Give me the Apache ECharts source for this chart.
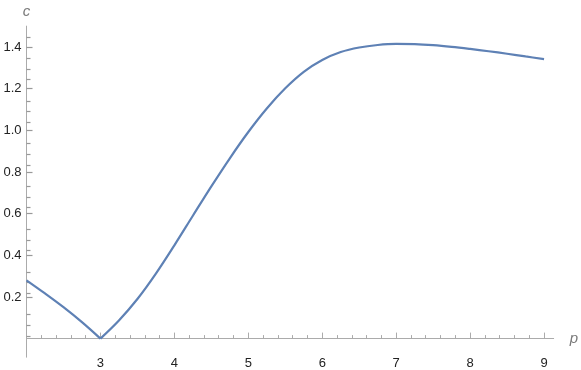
<!DOCTYPE html>
<html><head><meta charset="utf-8">
<script src="https://cdn.jsdelivr.net/npm/echarts@6/dist/echarts.min.js"></script>
<style>html,body{margin:0;padding:0;background:#fff}#c{width:581px;height:370px}</style>
</head><body><div id="c"></div>
<script>
// data
const pValues = [2, 2.25, 2.5, 2.75, 3, 3.25, 3.5, 3.75, 4, 4.25, 4.5, 4.75, 5, 5.25, 5.5, 5.75, 6, 6.25, 6.5, 6.75, 7, 7.25, 7.5, 7.75, 8, 8.25, 8.5, 8.75, 9];
const cValues = [0.28, 0.217, 0.151, 0.079, 0, 0.087, 0.19, 0.312, 0.448, 0.590, 0.731, 0.866, 0.992, 1.105, 1.202, 1.281, 1.338, 1.376, 1.398, 1.410, 1.415, 1.414, 1.409, 1.401, 1.391, 1.380, 1.368, 1.355, 1.342];
const xTickValues = [3, 4, 5, 6, 7, 8, 9];
const yTickValues = [0.2, 0.4, 0.6, 0.8, 1.0, 1.2, 1.4];
const cuspIndex = 4;

const xMinor = [];
for (let i = 10; i <= 45; i++) { if (i % 5 !== 0) xMinor.push(i / 5); }
const yMinor = [];
for (let i = 1; i <= 29; i++) { if (i % 4 !== 0) yMinor.push(i / 20); }

const pairs = pValues.map((p, i) => [p, cValues[i]]);
const FONT = '"Liberation Sans", Arial, sans-serif';
const AX = '#ababab';
const TK = '#999999';
const XMIN = 2, XMAX = 9.13, YMIN = -0.05, YMAX = 1.5;
const GRID = {left: 26.5, right: 23, top: 26.25, bottom: 12.8, containLabel: false};

const chart = echarts.init(document.getElementById('c'), null, {renderer: 'canvas'});
chart.setOption({
  animation: false,
  backgroundColor: '#fff',
  grid: [Object.assign({}, GRID), Object.assign({}, GRID)],
  xAxis: [{
    type: 'value', gridIndex: 0, position: 'bottom', min: XMIN, max: XMAX,
    axisLine: {onZero: true, onZeroAxisIndex: 0, lineStyle: {color: AX, width: 1}},
    axisTick: {inside: true, length: 6, customValues: xTickValues, lineStyle: {color: AX}},
    axisLabel: {customValues: xTickValues, margin: 8, color: '#222', fontSize: 13, fontFamily: FONT,
      formatter: v => String(v)},
    splitLine: {show: false},
    name: 'p', nameLocation: 'end', nameGap: 16,
    nameTextStyle: {fontStyle: 'italic', color: '#7a7a7a', fontSize: 15, fontFamily: FONT}
  }, {
    type: 'value', gridIndex: 0, position: 'bottom', min: XMIN, max: XMAX,
    axisLine: {show: false, onZero: true, onZeroAxisIndex: 0},
    axisTick: {inside: true, length: 3.5, customValues: xMinor, lineStyle: {color: AX}},
    axisLabel: {show: false},
    splitLine: {show: false}
  }, {
    type: 'value', gridIndex: 1, show: false, min: XMIN, max: XMAX
  }],
  yAxis: [{
    type: 'value', gridIndex: 0, position: 'left', min: YMIN, max: YMAX,
    axisLine: {show: true, onZero: false, lineStyle: {color: AX, width: 1}},
    axisTick: {show: true, inside: true, length: 6, customValues: yTickValues, lineStyle: {color: TK, width: 1.2}},
    axisLabel: {customValues: yTickValues, margin: 5, color: '#222', fontSize: 13, fontFamily: FONT,
      formatter: v => v.toFixed(1)},
    splitLine: {show: false},
    name: 'c', nameLocation: 'end', nameGap: 7,
    nameTextStyle: {fontStyle: 'italic', color: '#7a7a7a', fontSize: 15, fontFamily: FONT, align: 'center'}
  }, {
    type: 'value', gridIndex: 1, position: 'left', min: YMIN, max: YMAX,
    axisLine: {show: true, onZero: false, lineStyle: {color: AX, width: 1}},
    axisTick: {show: true, inside: true, length: 4, customValues: yMinor, lineStyle: {color: TK, width: 1.2}},
    axisLabel: {show: false},
    splitLine: {show: false}
  }],
  series: [{
    type: 'line', xAxisIndex: 0, yAxisIndex: 0,
    data: pairs.slice(0, cuspIndex + 1),
    smooth: 0.35, symbol: 'none',
    lineStyle: {color: '#5E81B5', width: 2.2}
  }, {
    type: 'line', xAxisIndex: 0, yAxisIndex: 0,
    data: pairs.slice(cuspIndex),
    smooth: 0.35, symbol: 'none',
    lineStyle: {color: '#5E81B5', width: 2.2}
  }]
});
</script>
</body></html>
